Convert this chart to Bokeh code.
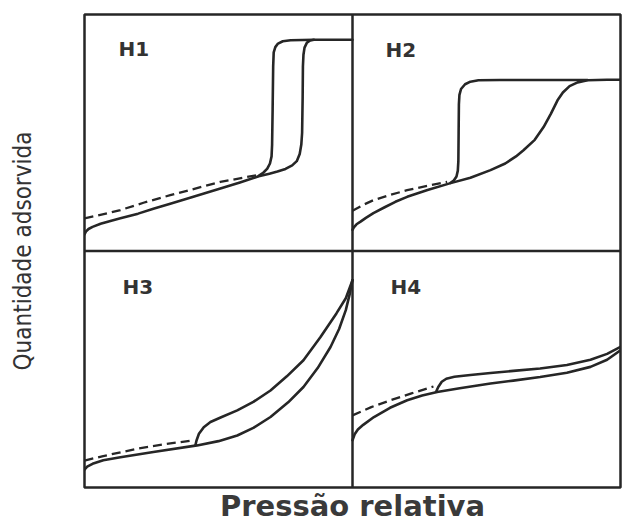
from bokeh.plotting import figure
from bokeh.models import Span, FixedTicker
from bokeh.core.properties import value
from bokeh.embed import file_html
from bokeh.resources import INLINE

# ---- data: relative pressure (0-1) and amount adsorbed (0-1) per panel ----
panel_names = ["H1", "H2", "H3", "H4"]

h1_ads_x = [0.0, 0.005, 0.015, 0.03, 0.06, 0.10, 0.134, 0.2, 0.26, 0.32, 0.4, 0.507, 0.58, 0.65, 0.69, 0.72,
            0.75, 0.775, 0.792, 0.803, 0.809, 0.812, 0.814, 0.815, 0.817, 0.821, 0.83, 0.842, 0.856, 1.0]
h1_ads_y = [0.07, 0.082, 0.093, 0.102, 0.115, 0.128, 0.138, 0.158, 0.18, 0.20, 0.227, 0.264, 0.29, 0.316, 0.327,
            0.336, 0.347, 0.362, 0.38, 0.41, 0.45, 0.50, 0.65, 0.78, 0.83, 0.86, 0.881, 0.89, 0.893, 0.893]
h1_des_x = [0.856, 0.769, 0.74, 0.722, 0.712, 0.706, 0.704, 0.702, 0.70, 0.698, 0.692, 0.682, 0.668, 0.65]
h1_des_y = [0.893, 0.891, 0.887, 0.877, 0.862, 0.84, 0.78, 0.6, 0.45, 0.40, 0.37, 0.348, 0.332, 0.318]
h1_dash_x = [0.0, 0.05, 0.134, 0.22, 0.32, 0.507, 0.65]
h1_dash_y = [0.138, 0.15, 0.173, 0.204, 0.236, 0.292, 0.322]

h2_ads_x = [0.0, 0.005, 0.015, 0.03, 0.05, 0.078, 0.12, 0.16, 0.204, 0.28, 0.366, 0.44, 0.515, 0.57, 0.61,
            0.638, 0.68, 0.713, 0.74, 0.765, 0.785, 0.81, 0.84, 0.877, 0.95, 1.0]
h2_ads_y = [0.089, 0.10, 0.113, 0.124, 0.14, 0.16, 0.185, 0.208, 0.229, 0.258, 0.287, 0.31, 0.342, 0.37, 0.40,
            0.426, 0.47, 0.524, 0.58, 0.637, 0.67, 0.697, 0.713, 0.722, 0.724, 0.724]
h2_des_x = [0.877, 0.7, 0.55, 0.47, 0.44, 0.42, 0.405, 0.399, 0.397, 0.396, 0.395, 0.393, 0.388, 0.378, 0.366]
h2_des_y = [0.723, 0.723, 0.723, 0.722, 0.716, 0.705, 0.685, 0.66, 0.62, 0.5, 0.38, 0.34, 0.315, 0.298, 0.288]
h2_dash_x = [0.0, 0.04, 0.078, 0.14, 0.204, 0.28, 0.353]
h2_dash_y = [0.17, 0.195, 0.215, 0.237, 0.257, 0.276, 0.292]

h3_ads_x = [0.0, 0.01, 0.03, 0.07, 0.134, 0.257, 0.42, 0.5, 0.57, 0.63, 0.694, 0.76, 0.817, 0.87, 0.918,
            0.95, 0.975, 0.99, 1.0]
h3_ads_y = [0.075, 0.088, 0.10, 0.115, 0.128, 0.15, 0.178, 0.196, 0.22, 0.252, 0.298, 0.36, 0.425, 0.505,
            0.594, 0.67, 0.75, 0.82, 0.877]
h3_des_x = [1.0, 0.975, 0.94, 0.88, 0.817, 0.755, 0.694, 0.63, 0.57, 0.51, 0.47, 0.445, 0.427, 0.418, 0.414]
h3_des_y = [0.877, 0.80, 0.736, 0.635, 0.538, 0.47, 0.41, 0.362, 0.326, 0.297, 0.277, 0.255, 0.227, 0.199, 0.18]
h3_dash_x = [0.0, 0.07, 0.197, 0.3, 0.408]
h3_dash_y = [0.114, 0.133, 0.164, 0.183, 0.20]

h4_ads_x = [0.0, 0.008, 0.02, 0.04, 0.08, 0.14, 0.204, 0.26, 0.316, 0.4, 0.515, 0.6, 0.7, 0.8, 0.888, 0.95, 1.0]
h4_ads_y = [0.2, 0.225, 0.245, 0.265, 0.298, 0.337, 0.369, 0.389, 0.404, 0.42, 0.44, 0.452, 0.467, 0.485,
            0.51, 0.54, 0.58]
h4_des_x = [1.0, 0.95, 0.888, 0.8, 0.7, 0.6, 0.515, 0.44, 0.38, 0.35, 0.333, 0.32, 0.312]
h4_des_y = [0.595, 0.565, 0.54, 0.518, 0.503, 0.493, 0.484, 0.476, 0.468, 0.46, 0.447, 0.425, 0.405]
h4_dash_x = [0.0, 0.07, 0.142, 0.22, 0.302]
h4_dash_y = [0.305, 0.34, 0.369, 0.398, 0.427]

x_label = "Pressão relativa"
y_label = "Quantidade adsorvida"

# ---- figure ----
INK = "#262626"
p = figure(width=622, height=525, x_range=(0, 2), y_range=(0, 2),
           output_backend="svg", toolbar_location=None,
           min_border_left=84, min_border_right=2, min_border_top=14, min_border_bottom=38)
p.background_fill_color = "white"
p.border_fill_color = "white"
p.grid.visible = False
p.outline_line_color = INK
p.outline_line_width = 2.5

for ax in (p.xaxis[0], p.yaxis[0]):
    ax.ticker = FixedTicker(ticks=[])
    ax.axis_line_color = None
    ax.major_tick_line_color = None
    ax.minor_tick_line_color = None
    ax.major_tick_out = 0
    ax.minor_tick_out = 0
    ax.major_label_text_font_size = "0px"
    ax.major_label_standoff = 0
    ax.axis_label_text_font_style = "normal"
    ax.axis_label_text_color = "#333333"

p.xaxis.axis_label = x_label
p.xaxis.axis_label_text_font = "DejaVu Sans"
p.xaxis.axis_label_text_font_style = "bold"
p.xaxis.axis_label_text_font_size = "29px"
p.xaxis.axis_label_text_color = "#3a3a3a"
p.xaxis.axis_label_standoff = 1

p.yaxis.axis_label = y_label
p.yaxis.axis_label_text_font = "'DejaVu Sans Condensed', sans-serif"
p.yaxis.axis_label_text_font_size = "24px"
p.yaxis.axis_label_standoff = 48

p.add_layout(Span(location=1, dimension="height", line_color=INK, line_width=2.5))
p.add_layout(Span(location=1, dimension="width", line_color=INK, line_width=2.5))

panels = [
    ("H1", 0, 1, h1_ads_x, h1_ads_y, h1_des_x, h1_des_y, h1_dash_x, h1_dash_y),
    ("H2", 1, 1, h2_ads_x, h2_ads_y, h2_des_x, h2_des_y, h2_dash_x, h2_dash_y),
    ("H3", 0, 0, h3_ads_x, h3_ads_y, h3_des_x, h3_des_y, h3_dash_x, h3_dash_y),
    ("H4", 1, 0, h4_ads_x, h4_ads_y, h4_des_x, h4_des_y, h4_dash_x, h4_dash_y),
]

label_pos = {"H1": (0.127, 0.855), "H2": (0.123, 0.848), "H3": (0.142, 0.848), "H4": (0.142, 0.848)}

for name, ox, oy, ax_, ay_, dx_, dy_, sx_, sy_ in panels:
    p.line([ox + v for v in ax_], [oy + v for v in ay_], line_color=INK, line_width=2.6,
           line_join="round", line_cap="round")
    p.line([ox + v for v in dx_], [oy + v for v in dy_], line_color=INK, line_width=2.6,
           line_join="round", line_cap="round")
    p.line([ox + v for v in sx_], [oy + v for v in sy_], line_color=INK, line_width=2.3,
           line_dash="9 5")
    lx, ly = label_pos[name]
    p.text(x=[ox + lx], y=[oy + ly], text=[name], text_font=value("DejaVu Sans"),
           text_font_style="bold", text_font_size="20px", text_color="#333333",
           text_baseline="alphabetic", text_align="left")

open("out.html", "w").write(file_html(p, INLINE))
